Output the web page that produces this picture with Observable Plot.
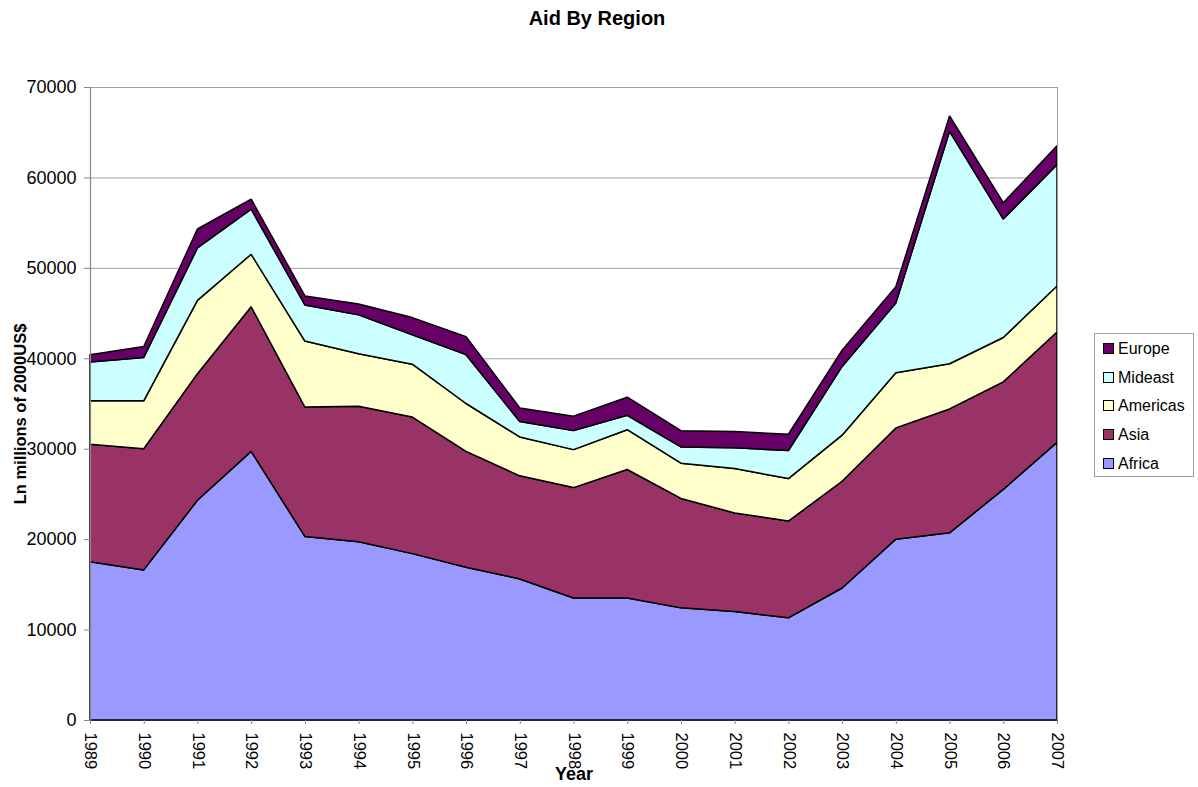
<!DOCTYPE html>
<html>
<head>
<meta charset="utf-8">
<script src="https://cdn.jsdelivr.net/npm/d3@7"></script>
<script src="https://cdn.jsdelivr.net/npm/@observablehq/plot@0.6"></script>
<style>
  body { margin: 0; background: #fff; font-family: "Liberation Sans", Arial, sans-serif; }
  #wrap { position: relative; width: 1198px; height: 787px; overflow: hidden; }
  #title { position: absolute; left: 0; top: 7px; width: 1194px; text-align: center; font-weight: bold; font-size: 20px; line-height: 23px; color: #000; }
  #chart { position: absolute; left: 0; top: 0; }
  #legend { position: absolute; left: 1094px; top: 333px; width: 100px; height: 144px; border: 1px solid #a0a0a0; box-sizing: border-box; background: #fff; }
  .item { position: absolute; left: 8px; font-size: 16px; line-height: 18px; height: 18px; white-space: nowrap; color: #000; }
  .sw { display: inline-block; width: 9px; height: 9px; border: 1px solid #000; margin-right: 4px; vertical-align: 0px; }
</style>
</head>
<body>
<div id="wrap">
  <div id="chart"></div>
  <div id="title"></div>
  <div id="legend"></div>
</div>
<script>
// ---- Data (millions of 2000 US$) ----
const years = [1989, 1990, 1991, 1992, 1993, 1994, 1995, 1996, 1997, 1998, 1999, 2000, 2001, 2002, 2003, 2004, 2005, 2006, 2007];
const africa   = [17500, 16600, 24300, 29700, 20300, 19700, 18400, 16900, 15600, 13500, 13500, 12400, 12000, 11300, 14600, 20000, 20700, 25500, 30700];
const asia     = [13000, 13400, 14000, 16000, 14300, 15000, 15100, 12800, 11400, 12200, 14200, 12100, 10900, 10700, 11800, 12300, 13700, 11900, 12200];
const americas = [4800, 5300, 8100, 5800, 7300, 5800, 5850, 5300, 4300, 4200, 4400, 3900, 4900, 4700, 5100, 6100, 5000, 4900, 5100];
const mideast  = [4300, 4800, 5800, 5000, 4000, 4300, 3250, 5400, 1700, 2100, 1600, 1800, 2300, 3100, 7600, 7700, 25700, 13100, 13400];
const europe   = [800, 1200, 2100, 1100, 1000, 1200, 1900, 2000, 1500, 1600, 2000, 1800, 1800, 1800, 1800, 1800, 1700, 1800, 2100];

// stacking order: bottom to top
const seriesNames  = ["Africa", "Asia", "Americas", "Mideast", "Europe"];
const seriesValues = [africa, asia, americas, mideast, europe];
const seriesColors = ["#9999ff", "#993366", "#ffffcc", "#ccffff", "#660066"];
const legendOrder  = ["Europe", "Mideast", "Americas", "Asia", "Africa"];
const yTicks = [0, 10000, 20000, 30000, 40000, 50000, 60000, 70000];

const titleText = "Aid By Region";
const yLabel = "Ln millions of 2000US$";
const xLabel = "Year";

// long table for Plot
const data = [];
seriesNames.forEach((name, si) => {
  years.forEach((yr, i) => data.push({ region: name, year: yr, value: seriesValues[si][i] }));
});

const font = "'Liberation Sans', Arial, sans-serif";

const chart = Plot.plot({
  width: 1198,
  height: 787,
  marginTop: 87,
  marginBottom: 67,
  marginLeft: 90,
  marginRight: 141,
  style: { fontFamily: font, fontSize: "16px", background: "transparent", color: "#000", overflow: "visible" },
  x: { domain: [1989, 2007], label: null },
  y: { domain: [0, 70000], label: null },
  color: { domain: seriesNames, range: seriesColors },
  marks: [
    Plot.ruleY(yTicks, { stroke: "#a0a0a0", strokeWidth: 1 }),
    Plot.areaY(data, Plot.stackY({
      x: "year", y: "value", z: "region", fill: "region", order: seriesNames,
      stroke: "#000", strokeWidth: 1.5, strokeLinejoin: "miter"
    })),
    Plot.ruleX([2007], { stroke: "#a0a0a0", strokeWidth: 1 }),
    Plot.ruleX([1989], { stroke: "#888", strokeWidth: 1.2 }),
    Plot.axisY({ ticks: yTicks, tickFormat: d => String(d), tickSize: 6, tickPadding: 8, fontSize: 18, stroke: "#888" }),
    Plot.axisX({ ticks: years, tickFormat: d => String(d), tickSize: 4, tickPadding: 8, tickRotate: 90, fontSize: 16.5, stroke: "#888" }),
    Plot.text([yLabel], { frameAnchor: "left", textAnchor: "middle", dx: -70, dy: 10, rotate: -90, fontWeight: "bold", fontSize: 16.5 }),
    Plot.text([xLabel], { frameAnchor: "bottom", textAnchor: "middle", lineAnchor: "middle", dy: 54, fontWeight: "bold", fontSize: 18 })
  ]
});
document.getElementById("chart").appendChild(chart);
document.getElementById("title").textContent = titleText;

// legend
const legend = document.getElementById("legend");
legendOrder.forEach((name, i) => {
  const c = seriesColors[seriesNames.indexOf(name)];
  const it = document.createElement("div");
  it.className = "item";
  it.style.top = (6 + i * 28.7) + "px";
  const sw = document.createElement("span");
  sw.className = "sw";
  sw.style.background = c;
  it.appendChild(sw);
  it.appendChild(document.createTextNode(name));
  legend.appendChild(it);
});
</script>
</body>
</html>
